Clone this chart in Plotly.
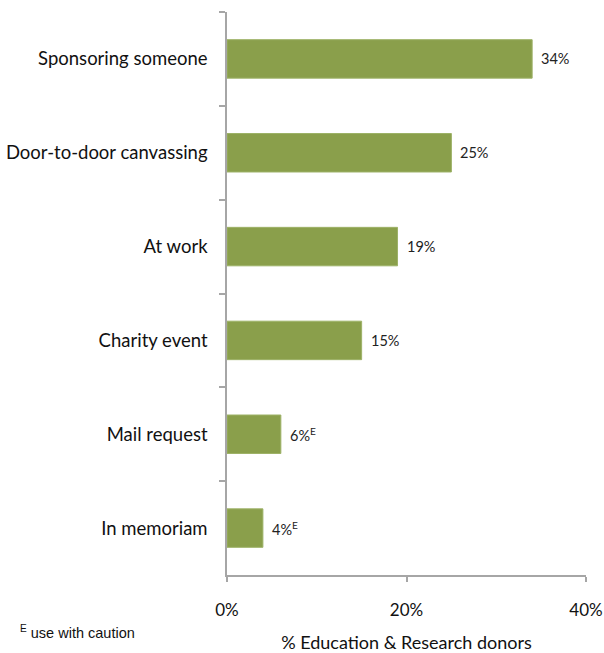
import plotly.graph_objects as go

categories = ["Sponsoring someone", "Door-to-door canvassing", "At work",
              "Charity event", "Mail request", "In memoriam"]
values = [34, 25, 19, 15, 6, 4]
caution = [False, False, False, False, True, True]
x_ticks = [0, 20, 40]
x_tick_labels = ["0%", "20%", "40%"]

bar_color = "#8A9F4B"
axis_color = "#A6A6A6"
font_main = "Lato, 'Open Sans', sans-serif"

W, H = 604, 653
M = dict(l=227, r=18, t=12, b=78)
plot_w = W - M["l"] - M["r"]
plot_h = H - M["t"] - M["b"]

value_labels = [f"{v}%" + ("<sup>E</sup>" if c else "") for v, c in zip(values, caution)]

fig = go.Figure(
    go.Bar(
        x=values,
        y=categories,
        orientation="h",
        marker=dict(color=bar_color, line=dict(color="#9DB267", width=1)),
        width=0.41,
        hoverinfo="skip",
    )
)

for cat, v, lab in zip(categories, values, value_labels):
    fig.add_annotation(
        x=v, y=cat, xref="x", yref="y",
        text=lab, showarrow=False,
        xanchor="left", xshift=7,
        font=dict(family=font_main, size=14.5, color="#222222"),
    )

# footnote below the plot, bottom-left of the page
fig.add_annotation(
    x=(18 - M["l"]) / plot_w, y=-(632 - (M["t"] + plot_h)) / plot_h,
    xref="paper", yref="paper", xanchor="left", yanchor="middle",
    text="<sup>E</sup> use with caution", showarrow=False,
    font=dict(family="'Liberation Sans', Arial, sans-serif", size=14.5, color="#111111"),
)

fig.update_layout(
    width=W, height=H,
    margin=M,
    paper_bgcolor="white", plot_bgcolor="white",
    showlegend=False,
    xaxis=dict(
        range=[0, 40], tickvals=x_ticks, ticktext=x_tick_labels,
        automargin=False,
        showgrid=False, zeroline=False,
        showline=True, linecolor=axis_color, linewidth=1.5,
        ticks="outside", ticklen=5, tickcolor=axis_color, tickwidth=1.5,
        ticklabelstandoff=14,
        tickfont=dict(family=font_main, size=17, color="#111111"),
        title=dict(text="% Education & Research donors",
                   font=dict(family=font_main, size=18, color="#111111"),
                   standoff=25),
    ),
    yaxis=dict(
        categoryorder="array", categoryarray=categories, autorange="reversed",
        automargin=False,
        showgrid=False, zeroline=False,
        showline=True, linecolor=axis_color, linewidth=1.5,
        ticks="outside", ticklen=6, tickcolor=axis_color, tickwidth=1.5,
        tickson="boundaries", ticklabelstandoff=14,
        tickfont=dict(family=font_main, size=18.5, color="#111111"),
    ),
)

fig.write_html("out.html")
